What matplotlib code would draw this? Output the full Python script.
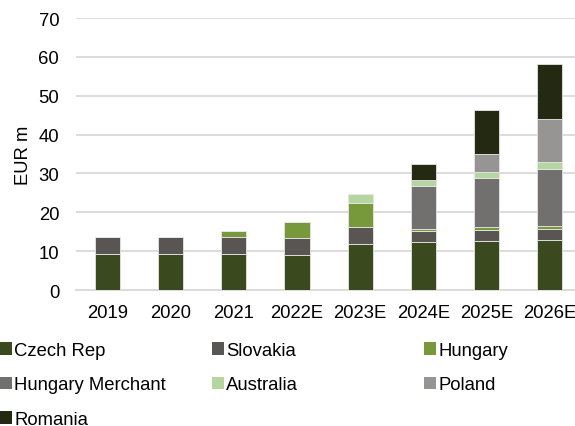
import matplotlib.pyplot as plt
import numpy as np

plt.rcParams['font.family'] = ['Liberation Sans', 'DejaVu Sans']

# Revenue by country (EUR m)
years = ['2019', '2020', '2021', '2022E', '2023E', '2024E', '2025E', '2026E']
czech = [9.2, 9.2, 9.2, 9.0, 11.9, 12.3, 12.6, 12.9]
slovakia = [4.4, 4.5, 4.4, 4.4, 4.3, 2.9, 2.8, 2.9]
hungary = [0.0, 0.0, 1.7, 4.2, 6.3, 0.6, 0.9, 0.7]
hungary_merchant = [0.0, 0.0, 0.0, 0.0, 0.0, 11.0, 12.4, 14.7]
australia = [0.0, 0.0, 0.0, 0.0, 2.1, 1.4, 1.6, 1.7]
poland = [0.0, 0.0, 0.0, 0.0, 0.0, 0.0, 4.8, 11.2]
romania = [0.0, 0.0, 0.0, 0.0, 0.0, 4.3, 11.3, 14.0]

series = [
    ('Czech Rep', czech, '#3a4a1e'),
    ('Slovakia', slovakia, '#595553'),
    ('Hungary', hungary, '#77993c'),
    ('Hungary Merchant', hungary_merchant, '#72706e'),
    ('Australia', australia, '#b5d6a0'),
    ('Poland', poland, '#979593'),
    ('Romania', romania, '#242a12'),
]

FS = 13.3

fig = plt.figure(figsize=(5.75, 4.27), dpi=100)
ax = fig.add_axes([0.132, 0.3185, 0.868, 0.637])

x = np.arange(len(years))
bottom = np.zeros(len(years))
handles = []
for name, vals, col in series:
    vals = np.array(vals)
    b = ax.bar(x, vals, 0.4, bottom=bottom, color=col, label=name,
               edgecolor='#e6e6e6', linewidth=0.6, zorder=3)
    handles.append(b)
    bottom += vals

ax.set_ylim(0, 70)
ax.set_yticks(range(0, 71, 10))
ax.set_xlim(-0.5, 7.4)
ax.set_xticks(x)
ax.set_xticklabels(years)
ax.tick_params(axis='both', length=0, labelsize=FS, colors='#000000')
ax.tick_params(axis='y', pad=12)
ax.tick_params(axis='x', pad=10)
ax.grid(axis='y', color='#d9d9d9', linewidth=1.3, zorder=0)
for s in ['top', 'right', 'left']:
    ax.spines[s].set_visible(False)
ax.spines['bottom'].set_color('#d9d9d9')
ax.spines['bottom'].set_linewidth(1.3)
ax.set_ylabel('EUR m', fontsize=FS, labelpad=5)

# legend laid out row by row in three fixed-width columns
names = [s[0] for s in series]
col_x = [0.0, 212 / 575, 424 / 575]
for c in range(3):
    idx = list(range(c, len(series), 3))
    leg = fig.legend([handles[i] for i in idx], [names[i] for i in idx],
                     loc='upper left', bbox_to_anchor=(col_x[c], 0.197),
                     frameon=False, fontsize=FS, handlelength=0.65,
                     handleheight=0.65, handletextpad=0.12,
                     labelspacing=0.95, borderaxespad=0, borderpad=0)
    for h in leg.legend_handles:
        h.set_edgecolor('none')

plt.savefig('out.png', dpi=100)
